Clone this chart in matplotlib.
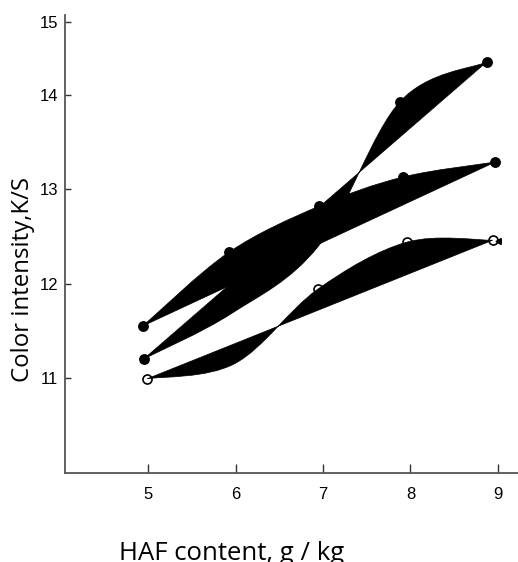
import matplotlib
matplotlib.use('Agg')
import matplotlib.pyplot as plt
from matplotlib.path import Path
from matplotlib.patches import PathPatch
import numpy as np

# HAF content (g/kg) and colour intensity K/S
xA = [4.94, 5.92, 6.95, 7.91, 8.97]
yA = [11.55, 12.33, 12.82, 13.13, 13.29]
xB = [4.95, 5.95, 6.95, 7.88, 8.87]
yB = [11.20, 11.68, 12.40, 13.93, 14.35]
xC = [4.99, 5.99, 6.94, 7.96, 8.94]
yC = [10.99, 11.15, 11.94, 12.44, 12.46]

# visible markers
filledX = [4.94, 5.92, 6.95, 7.91, 8.97, 4.95, 7.88, 8.87]
filledY = [11.55, 12.33, 12.82, 13.13, 13.29, 11.20, 13.93, 14.35]
openX = [4.99, 6.94, 7.96, 8.94]
openY = [10.99, 11.94, 12.44, 12.46]
triX = [9.01]
triY = [12.45]

xticks = [5, 6, 7, 8, 9]
yticks = [11, 12, 13, 14, 14.78]
yticklabels = ['11', '12', '13', '14', '15']

W, H = 518, 562
tickfont = ['Liberation Sans Narrow', 'Liberation Sans', 'DejaVu Sans']
labelfont = ['Open Sans', 'DejaVu Sans']


def smooth_closed_path(xs, ys):
    """Catmull-Rom curve through the points, closed by the straight chord."""
    pts = np.column_stack([xs, ys])
    n = len(pts)
    verts = [pts[0]]
    codes = [Path.MOVETO]
    for i in range(n - 1):
        p0 = pts[i - 1] if i > 0 else pts[i]
        p1 = pts[i]
        p2 = pts[i + 1]
        p3 = pts[i + 2] if i + 2 < n else pts[i + 1]
        verts += [p1 + (p2 - p0) / 6, p2 - (p3 - p1) / 6, p2]
        codes += [Path.CURVE4] * 3
    verts += [pts[0], pts[0]]
    codes += [Path.LINETO, Path.CLOSEPOLY]
    return Path(np.array(verts), codes)


fig = plt.figure(figsize=(W / 100, H / 100), dpi=100)
ax = fig.add_axes([65 / W, 89 / H, (W - 65) / W, (473 - 15) / H])
ax.set_xlim(4.05, 9.23)
ax.set_ylim(9.99, 14.85)

# markers under the filled shapes
ax.plot(filledX, filledY, 'o', color='black', markersize=6.8, zorder=2)
ax.plot(openX, openY, 'o', markerfacecolor='white', markeredgecolor='black',
        markeredgewidth=1.2, markersize=6.5, zorder=2)
ax.plot(triX, triY, marker=(3, 0, 90), color='black', markersize=5,
        linestyle='none', zorder=4)

for xs, ys in [(xA, yA), (xB, yB), (xC, yC)]:
    ax.add_patch(PathPatch(smooth_closed_path(xs, ys), facecolor='black',
                           edgecolor='black', linewidth=0.5, zorder=3))

for side in ['top', 'right']:
    ax.spines[side].set_visible(False)
for side in ['left', 'bottom']:
    ax.spines[side].set_color('#555555')
    ax.spines[side].set_linewidth(1.3)

ax.set_xticks(xticks)
ax.set_xticklabels([str(t) for t in xticks], family=tickfont, fontsize=12)
ax.set_yticks(yticks)
ax.set_yticklabels(yticklabels, family=tickfont, fontsize=12)
ax.tick_params(axis='x', direction='in', length=6.5, width=1, color='#333333', pad=10)
ax.tick_params(axis='y', direction='in', length=4.5, width=1, color='#333333', pad=5)

fig.text(23 / W, 1 - 280 / H, 'Color intensity,K/S', rotation=90, ha='center',
         va='center', fontsize=17.3, family=labelfont)
fig.text(232 / W, 1.5 / H, 'HAF content, g / kg', ha='center',
         va='baseline', fontsize=18.5, family=labelfont)

plt.savefig('out.png', dpi=100)
